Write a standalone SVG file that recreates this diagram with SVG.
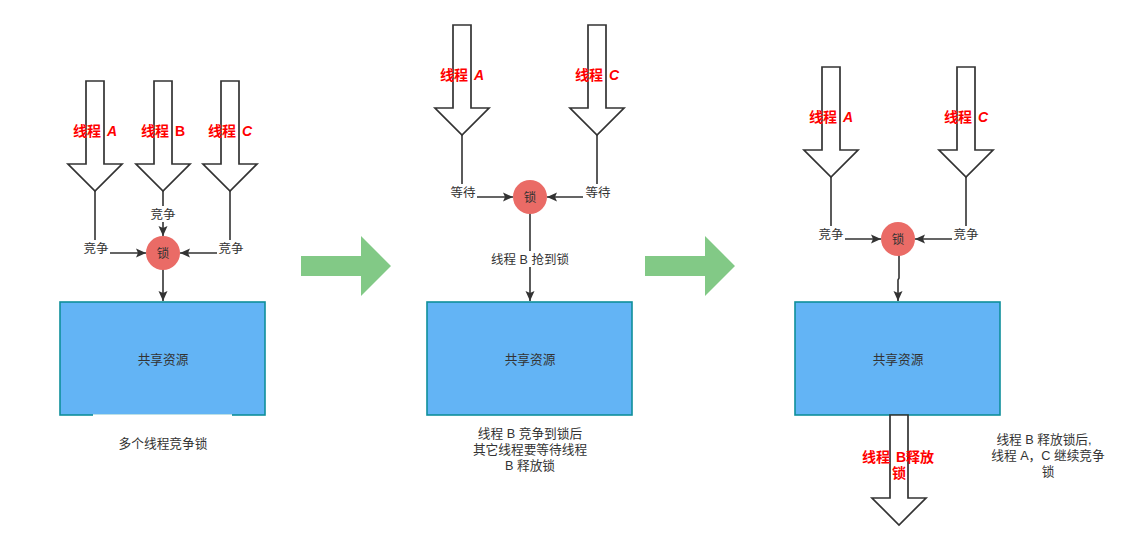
<svg xmlns="http://www.w3.org/2000/svg" width="1146" height="552" viewBox="0 0 1146 552">
<style>
.hollow{fill:#ffffff;stroke:#333333;stroke-width:1.7;stroke-linejoin:miter}
.edge{fill:none;stroke:#333333;stroke-width:1.6}
.lock{fill:#ea6b66;stroke:none}
.res{fill:#63b4f5;stroke:#0e8f9b;stroke-width:1.6}
.green{fill:#82c986;stroke:none}
.red{font-family:"Liberation Sans","Noto Sans CJK SC",sans-serif;font-size:14px;font-weight:bold;fill:#ff0000;text-anchor:middle}
.lbl{font-family:"Liberation Sans","Noto Sans CJK SC",sans-serif;font-size:12.5px;fill:#333333;text-anchor:middle}
.cap{font-family:"Liberation Sans","Noto Sans CJK SC",sans-serif;font-size:12.7px;fill:#333333;text-anchor:middle}
.bg{fill:#ffffff}
</style>
<defs>
<marker id="ah" markerUnits="userSpaceOnUse" markerWidth="12" markerHeight="12" viewBox="0 0 12 12" refX="10" refY="6" orient="auto">
<path d="M0,1.5 L10,6 L0,10.5 L2,6 z" fill="#333333"/>
</marker>
</defs>
<rect width="1146" height="552" fill="#ffffff"/>

<!-- transition arrows -->
<g id="transition1"><path class="green" d="M301,256 H361 V236 L391,266 L361,296 V276 H301 z"/></g>
<g id="transition2"><path class="green" d="M645,256 H705 V236 L735,266 L705,296 V276 H645 z"/></g>

<!-- connectors -->
<g id="connectors">
<path class="edge" d="M95,191 V253 H146" marker-end="url(#ah)"/>
<path class="edge" d="M163,191 V236" marker-end="url(#ah)"/>
<path class="edge" d="M230,191 V253 H180" marker-end="url(#ah)"/>
<path class="edge" d="M163,269 V301" marker-end="url(#ah)"/>

<path class="edge" d="M462,135 V197 H513" marker-end="url(#ah)"/>
<path class="edge" d="M597,135 V197 H547" marker-end="url(#ah)"/>
<path class="edge" d="M530,213 V301" marker-end="url(#ah)"/>

<path class="edge" d="M831,177 V239 H881" marker-end="url(#ah)"/>
<path class="edge" d="M966,177 V239 H915" marker-end="url(#ah)"/>
<path class="edge" d="M899,255 V278 L898,280 V301" marker-end="url(#ah)"/>
</g>

<!-- edge labels -->
<g id="edge-labels">
<rect class="bg" x="82" y="240" width="28" height="16"/><text class="lbl" x="96" y="252.5">竞争</text>
<rect class="bg" x="149" y="206" width="28" height="16"/><text class="lbl" x="163" y="218.5">竞争</text>
<rect class="bg" x="217" y="240" width="28" height="16"/><text class="lbl" x="231" y="252.5">竞争</text>

<rect class="bg" x="448" y="184" width="29" height="16"/><text class="lbl" x="463" y="196.5">等待</text>
<rect class="bg" x="583" y="184" width="29" height="16"/><text class="lbl" x="598" y="196.5">等待</text>
<rect class="bg" x="487" y="251" width="86" height="16"/><text class="lbl" x="530" y="263.5">线程 B 抢到锁</text>

<rect class="bg" x="817" y="226" width="28" height="16"/><text class="lbl" x="831" y="238.5">竞争</text>
<rect class="bg" x="952" y="226" width="28" height="16"/><text class="lbl" x="966" y="238.5">竞争</text>
</g>

<!-- panel 1 -->
<g id="p1-threadA"><path class="hollow" d="M86,81 H104 V164 H122 L95,191 L68,164 H86 z"/><text class="red" x="95" y="136">线程 <tspan dx="2" font-style="italic">A</tspan></text></g>
<g id="p1-threadB"><path class="hollow" d="M154,81 H172 V164 H190 L163,191 L136,164 H154 z"/><text class="red" x="163" y="136">线程 <tspan dx="2">B</tspan></text></g>
<g id="p1-threadC"><path class="hollow" d="M221,81 H239 V164 H257 L230,191 L203,164 H221 z"/><text class="red" x="230" y="136">线程 <tspan dx="2" font-style="italic">C</tspan></text></g>
<g id="p1-lock"><circle class="lock" cx="163" cy="253" r="17"/><text class="lbl" x="163" y="257.5">锁</text></g>
<g id="p1-resource"><rect class="res" x="60" y="302" width="205" height="113"/><text class="cap" x="163" y="363.5">共享资源</text></g>
<g id="p1-caption"><rect class="bg" x="93" y="414.3" width="139" height="2.5"/><text class="cap" x="163" y="447.5">多个线程竞争锁</text></g>

<!-- panel 2 -->
<g id="p2-threadA"><path class="hollow" d="M453,25 H471 V108 H489 L462,135 L435,108 H453 z"/><text class="red" x="462" y="80">线程 <tspan dx="2" font-style="italic">A</tspan></text></g>
<g id="p2-threadC"><path class="hollow" d="M588,25 H606 V108 H624 L597,135 L570,108 H588 z"/><text class="red" x="597" y="80">线程 <tspan dx="2" font-style="italic">C</tspan></text></g>
<g id="p2-lock"><circle class="lock" cx="530" cy="197" r="17"/><text class="lbl" x="530" y="201.5">锁</text></g>
<g id="p2-resource"><rect class="res" x="427" y="302" width="205" height="113"/><text class="cap" x="530" y="363.5">共享资源</text></g>
<g id="p2-caption"><text class="cap" x="530" y="438">线程 B 竞争到锁后</text><text class="cap" x="530" y="454">其它线程要等待线程</text><text class="cap" x="530" y="470">B 释放锁</text></g>

<!-- panel 3 -->
<g id="p3-threadA"><path class="hollow" d="M822,67 H840 V150 H858 L831,177 L804,150 H822 z"/><text class="red" x="831" y="122">线程 <tspan dx="2" font-style="italic">A</tspan></text></g>
<g id="p3-threadC"><path class="hollow" d="M957,67 H975 V150 H993 L966,177 L939,150 H957 z"/><text class="red" x="966" y="122">线程 <tspan dx="2" font-style="italic">C</tspan></text></g>
<g id="p3-lock"><circle class="lock" cx="898" cy="239" r="17"/><text class="lbl" x="898" y="243.5">锁</text></g>
<g id="p3-resource"><rect class="res" x="795" y="302" width="205" height="113"/><text class="cap" x="898" y="363.5">共享资源</text></g>
<g id="p3-threadB"><path class="hollow" d="M890,415 H908 V498 H926 L899,525 L872,498 H890 z"/><text class="red" x="898" y="461.5">线程 <tspan dx="2">B释放</tspan></text><text class="red" x="899" y="478">锁</text></g>
<g id="p3-caption"><text class="cap" x="1044" y="443.5">线程 B 释放锁后,</text><text class="cap" x="1048" y="459.5">线程 A，C 继续竞争</text><text class="cap" x="1048" y="475.5">锁</text></g>
</svg>
